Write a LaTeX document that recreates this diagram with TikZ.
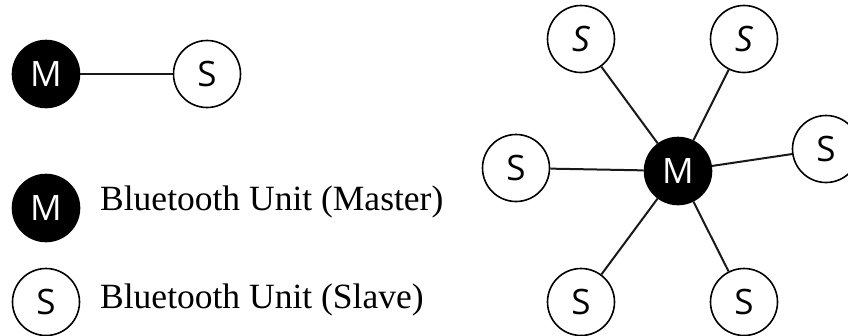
\documentclass[tikz,border=0pt]{standalone}
\usepackage{fontspec}
\setmainfont{Liberation Serif}
\newfontfamily\circfont{Open Sans}
\begin{document}
\begin{tikzpicture}[x=1pt,y=-1pt,
  unit/.style={circle,draw=black,line width=1.6pt,minimum size=67pt,inner sep=0pt,font=\circfont\fontsize{35}{35}\selectfont},
  master/.style={unit,fill=black,text=white},
  slave/.style={unit,fill=white,text=black},
  link/.style={line width=2pt,draw=black!90},
  legend/.style={anchor=base west,inner sep=0pt,font=\fontsize{35.5}{36}\selectfont}]
\useasboundingbox (0,0) rectangle (848,335);
% top pair
\node[master] (m1) at (46,74) {M};
\node[slave] (s1) at (207,74) {S};
\draw[link] (m1) -- (s1);
% legend
\node[master] (lm) at (46,208) {M};
\node[legend] (tm) at (100,210) {Bluetooth Unit (Master)};
\node[slave] (ls) at (46,302) {S};
\node[legend] (ts) at (100,308) {Bluetooth Unit (Slave)};
% star
\node[master] (c) at (678,171) {M};
\node[slave] (a1) at (581,39) {\itshape S};
\node[slave] (a2) at (744,39) {\itshape S};
\node[slave] (a3) at (826,149) {S};
\node[slave] (a4) at (516,168) {S};
\node[slave] (a5) at (581,302) {S};
\node[slave] (a6) at (744,302) {S};
\foreach \n in {a1,a2,a3,a4,a5,a6} \draw[link] (c) -- (\n);
\end{tikzpicture}
\end{document}
